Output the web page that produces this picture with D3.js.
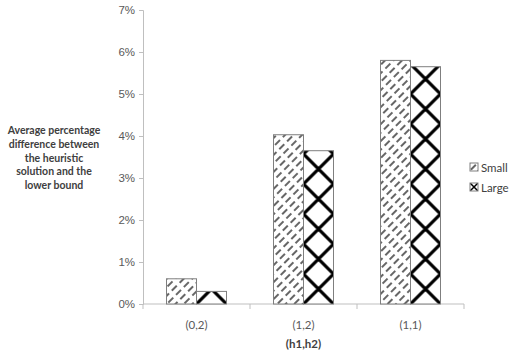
<!DOCTYPE html>
<html>
<head>
<meta charset="utf-8">
<script src="https://cdn.jsdelivr.net/npm/d3@7"></script>
<style>
  body { margin: 0; background: #fff; }
  svg { font-family: Lato, "Open Sans", sans-serif; }
</style>
</head>
<body>
<div id="chart"></div>
<script>
const categories = ["(0,2)", "(1,2)", "(1,1)"];
const seriesNames = ["Small", "Large"];
const smallValues = [0.006, 0.0403, 0.058];
const largeValues = [0.003, 0.0365, 0.0565];
const yTicks = [0, 0.01, 0.02, 0.03, 0.04, 0.05, 0.06, 0.07];
const yTitle = ["Average percentage", "difference between", "the heuristic", "solution and the", "lower bound"];
const xTitle = "(h1,h2)";

const width = 517, height = 356;
const margin = {left: 143, right: 53, top: 10, bottom: 52};

let svg = d3.select("#chart").append("svg")
    .attr("width", width)
    .attr("height", height);

svg.append("rect").attr("width", width).attr("height", height).attr("fill", "#fff");

let x = d3.scaleBand()
    .domain(categories)
    .range([margin.left, width - margin.right]);

let y = d3.scaleLinear()
    .domain([0, 0.07])
    .range([height - margin.bottom, margin.top]);

let barW = 30;
let defs = svg.append("defs");

// diagonal dashed hatch for "Small"
let hatch = defs.append("pattern")
    .attr("id", "hatch")
    .attr("patternUnits", "userSpaceOnUse")
    .attr("width", 6)
    .attr("height", 11)
    .attr("patternTransform", "rotate(45)");
hatch.append("rect").attr("width", 6).attr("height", 11).attr("fill", "#fff");
hatch.append("line")
    .attr("x1", 3).attr("y1", 0).attr("x2", 3).attr("y2", 11)
    .attr("stroke", "#000")
    .attr("stroke-width", 1.2)
    .attr("stroke-dasharray", "7,4");

// big cross pattern for "Large", one per bar so the crosses line up with the bar
function crossPattern(id, x0, y0, w, h, sw) {
  let p = defs.append("pattern")
      .attr("id", id)
      .attr("patternUnits", "userSpaceOnUse")
      .attr("x", x0).attr("y", y0)
      .attr("width", w).attr("height", h);
  p.append("rect").attr("width", w).attr("height", h).attr("fill", "#fff");
  p.append("path")
      .attr("d", `M0,0L${w},${h}M${w},0L0,${h}`)
      .attr("stroke", "#000")
      .attr("stroke-width", sw);
}

// axes
let yAxis = svg.append("g")
    .attr("transform", `translate(${margin.left},0)`)
    .call(d3.axisLeft(y).tickValues(yTicks).tickFormat(d3.format(".0%")).tickSize(4).tickPadding(4));
yAxis.select(".domain").attr("stroke", "#bfbfbf");
yAxis.selectAll(".tick line").attr("stroke", "#bfbfbf");
yAxis.selectAll(".tick text").attr("fill", "#595959").style("font-size", "11.5px");

let xAxisG = svg.append("g")
    .attr("transform", `translate(0,${y(0)})`);
xAxisG.append("line")
    .attr("x1", margin.left).attr("x2", width - margin.right)
    .attr("stroke", "#bfbfbf");
let bounds = categories.map(c => x(c)).concat([x(categories[categories.length - 1]) + x.bandwidth()]);
xAxisG.selectAll(".xt")
    .data(bounds)
    .enter().append("line")
    .attr("x1", d => d).attr("x2", d => d)
    .attr("y1", 0).attr("y2", 5)
    .attr("stroke", "#bfbfbf");
xAxisG.selectAll(".xl")
    .data(categories)
    .enter().append("text")
    .attr("x", d => x(d) + x.bandwidth() / 2)
    .attr("y", 25)
    .attr("text-anchor", "middle")
    .attr("fill", "#595959")
    .style("font-size", "11.5px")
    .text(d => d);

svg.append("text")
    .attr("x", x(categories[1]) + x.bandwidth() / 2)
    .attr("y", 348)
    .attr("text-anchor", "middle")
    .attr("fill", "#404040")
    .style("font-size", "11.5px")
    .style("font-weight", "bold")
    .text(xTitle);

// y title
svg.append("text")
    .attr("text-anchor", "middle")
    .attr("fill", "#404040")
    .style("font-size", "10.5px")
    .style("font-weight", "bold")
    .selectAll("tspan")
    .data(yTitle)
    .enter().append("tspan")
    .attr("x", 54)
    .attr("y", (d, i) => 134 + i * 13.8)
    .text(d => d);

// bars
let g = svg.append("g");
categories.forEach((c, i) => {
  let cx = x(c) + x.bandwidth() / 2;
  g.append("rect")
      .attr("x", cx - barW)
      .attr("y", y(smallValues[i]))
      .attr("width", barW)
      .attr("height", y(0) - y(smallValues[i]))
      .attr("fill", "url(#hatch)")
      .attr("stroke", "#7f7f7f")
      .attr("stroke-width", 1);
  crossPattern("cross" + i, cx, y(0), barW, 30, 3.2);
  g.append("rect")
      .attr("x", cx)
      .attr("y", y(largeValues[i]))
      .attr("width", barW)
      .attr("height", y(0) - y(largeValues[i]))
      .attr("fill", `url(#cross${i})`)
      .attr("stroke", "#7f7f7f")
      .attr("stroke-width", 1);
});

// legend
crossPattern("crossLeg", 470, 183, 8, 8, 1.5);
let legend = svg.append("g");
seriesNames.forEach((s, i) => {
  let ly = 164 + i * 20;
  legend.append("rect")
      .attr("x", 470).attr("y", ly - 1)
      .attr("width", 8).attr("height", 8)
      .attr("fill", i === 0 ? "url(#hatch)" : "url(#crossLeg)")
      .attr("stroke", "#7f7f7f");
  legend.append("text")
      .attr("x", 481).attr("y", ly + 7.5)
      .attr("fill", "#404040")
      .style("font-size", "11.5px")
      .text(s);
});
</script>
</body>
</html>
